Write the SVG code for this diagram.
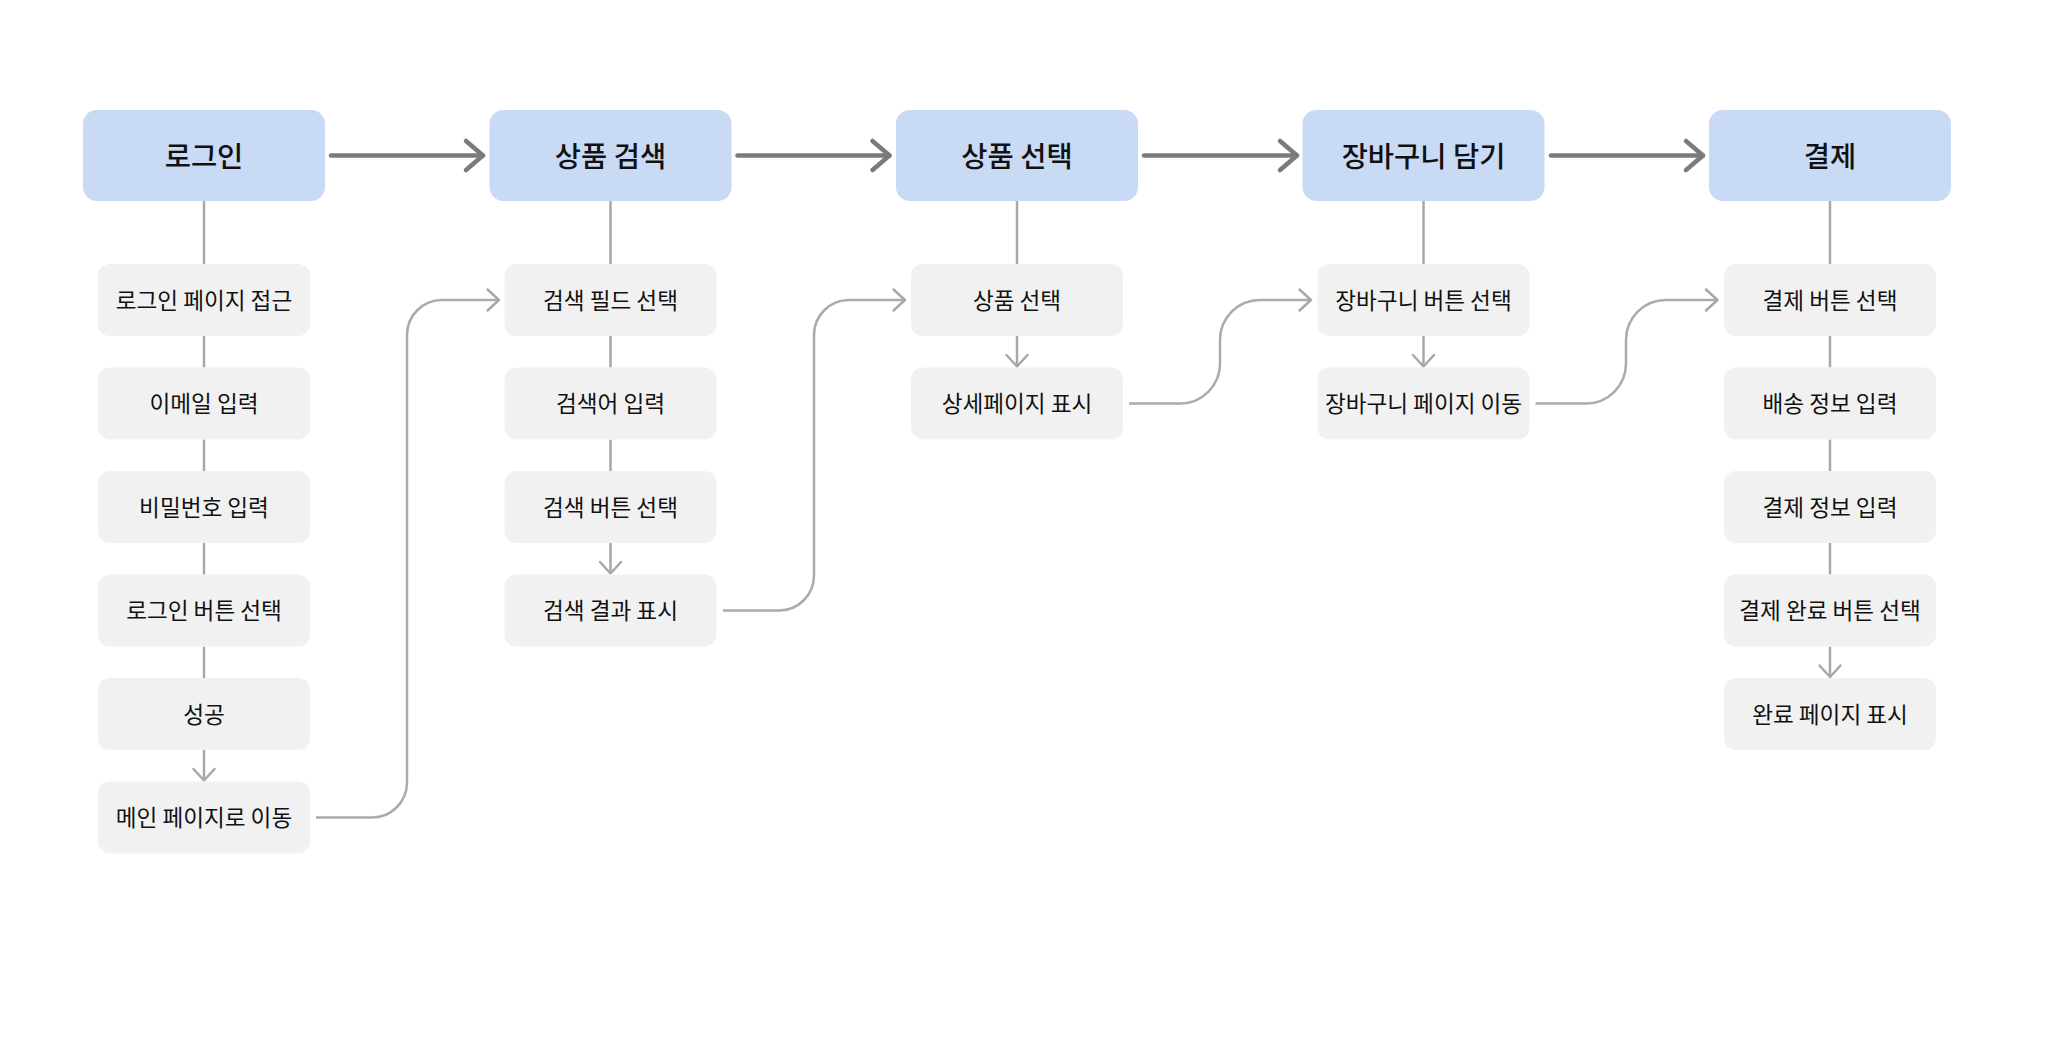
<svg xmlns="http://www.w3.org/2000/svg" width="2048" height="1042" viewBox="0 0 2048 1042">
<defs>
<style>
.hdr rect{fill:#C9DAF4;}
.sub rect{fill:#F1F1F1;}
text{font-family:"Noto Sans CJK KR","Noto Sans",sans-serif;fill:#111111;text-anchor:middle;dominant-baseline:central;}
.hdr text{font-size:28.5px;font-weight:500;}
.sub text{font-size:22.6px;}
.main{fill:none;stroke:#7B7B7B;stroke-width:4.5;stroke-linecap:round;}
.thin{fill:none;stroke:#A8A8A8;stroke-width:2.5;}
.curve{fill:none;stroke:#ABABAB;stroke-width:2.5;}
</style>
<marker id="big" markerUnits="userSpaceOnUse" markerWidth="24" markerHeight="36" viewBox="0 0 24 36" refX="20" refY="18" orient="auto" overflow="visible">
<path d="M3,3.5 L20,18 L3,32.5" fill="none" stroke="#7B7B7B" stroke-width="4.5" stroke-linecap="round" stroke-linejoin="round"/>
</marker>
<marker id="small" markerUnits="userSpaceOnUse" markerWidth="16" markerHeight="26" viewBox="0 0 16 26" refX="13" refY="13" orient="auto" overflow="visible">
<path d="M1.5,2.5 L13,13 L1.5,23.5" fill="none" stroke="#A8A8A8" stroke-width="2.5" stroke-linecap="round" stroke-linejoin="round"/>
</marker>
</defs>
<rect width="2048" height="1042" fill="#FFFFFF"/>

<g id="connectors">
<path class="main" d="M331,155.5 H483" marker-end="url(#big)"/>
<path class="main" d="M737.5,155.5 H889.5" marker-end="url(#big)"/>
<path class="main" d="M1144,155.5 H1297" marker-end="url(#big)"/>
<path class="main" d="M1551,155.5 H1703" marker-end="url(#big)"/>
<path class="thin" d="M204,201 V264"/>
<path class="thin" d="M204,336 V367.5"/>
<path class="thin" d="M204,439.5 V471"/>
<path class="thin" d="M204,543 V574.5"/>
<path class="thin" d="M204,646.5 V678"/>
<path class="thin" d="M204,750 V780.5" marker-end="url(#small)"/>
<path class="thin" d="M610.5,201 V264"/>
<path class="thin" d="M610.5,336 V367.5"/>
<path class="thin" d="M610.5,439.5 V471"/>
<path class="thin" d="M610.5,543 V573.5" marker-end="url(#small)"/>
<path class="thin" d="M1017,201 V264"/>
<path class="thin" d="M1017,336 V366.5" marker-end="url(#small)"/>
<path class="thin" d="M1423.5,201 V264"/>
<path class="thin" d="M1423.5,336 V366.5" marker-end="url(#small)"/>
<path class="thin" d="M1830,201 V264"/>
<path class="thin" d="M1830,336 V367.5"/>
<path class="thin" d="M1830,439.5 V471"/>
<path class="thin" d="M1830,543 V574.5"/>
<path class="thin" d="M1830,646.5 V677" marker-end="url(#small)"/>
<path class="curve" d="M316,817.5 H372 A35,35 0 0 0 407,782.5 V335 A35,35 0 0 1 442,300 H499" marker-end="url(#small)"/>
<path class="curve" d="M723,610.5 H779 A35,35 0 0 0 814,575.5 V335 A35,35 0 0 1 849,300 H905" marker-end="url(#small)"/>
<path class="curve" d="M1129,403.5 H1180 A40,40 0 0 0 1220,363.5 V340 A40,40 0 0 1 1260,300 H1311" marker-end="url(#small)"/>
<path class="curve" d="M1535.5,403.5 H1586 A40,40 0 0 0 1626,363.5 V340 A40,40 0 0 1 1666,300 H1717.5" marker-end="url(#small)"/>
</g>

<g id="h-login" class="hdr"><rect x="83" y="110" width="242" height="91" rx="14"/><text x="204" y="154">로그인</text></g>
<g id="h-search" class="hdr"><rect x="489.5" y="110" width="242" height="91" rx="14"/><text x="610.5" y="154">상품 검색</text></g>
<g id="h-select" class="hdr"><rect x="896" y="110" width="242" height="91" rx="14"/><text x="1017" y="154">상품 선택</text></g>
<g id="h-cart" class="hdr"><rect x="1302.5" y="110" width="242" height="91" rx="14"/><text x="1423.5" y="154">장바구니 담기</text></g>
<g id="h-pay" class="hdr"><rect x="1709" y="110" width="242" height="91" rx="14"/><text x="1830" y="154">결제</text></g>

<g id="s0-0" class="sub"><rect x="98" y="264" width="212" height="72" rx="12"/><text x="204" y="299">로그인 페이지 접근</text></g>
<g id="s0-1" class="sub"><rect x="98" y="367.5" width="212" height="72" rx="12"/><text x="204" y="402.5">이메일 입력</text></g>
<g id="s0-2" class="sub"><rect x="98" y="471" width="212" height="72" rx="12"/><text x="204" y="506">비밀번호 입력</text></g>
<g id="s0-3" class="sub"><rect x="98" y="574.5" width="212" height="72" rx="12"/><text x="204" y="609.5">로그인 버튼 선택</text></g>
<g id="s0-4" class="sub"><rect x="98" y="678" width="212" height="72" rx="12"/><text x="204" y="713">성공</text></g>
<g id="s0-5" class="sub"><rect x="98" y="781.5" width="212" height="72" rx="12"/><text x="204" y="816.5">메인 페이지로 이동</text></g>

<g id="s1-0" class="sub"><rect x="504.5" y="264" width="212" height="72" rx="12"/><text x="610.5" y="299">검색 필드 선택</text></g>
<g id="s1-1" class="sub"><rect x="504.5" y="367.5" width="212" height="72" rx="12"/><text x="610.5" y="402.5">검색어 입력</text></g>
<g id="s1-2" class="sub"><rect x="504.5" y="471" width="212" height="72" rx="12"/><text x="610.5" y="506">검색 버튼 선택</text></g>
<g id="s1-3" class="sub"><rect x="504.5" y="574.5" width="212" height="72" rx="12"/><text x="610.5" y="609.5">검색 결과 표시</text></g>

<g id="s2-0" class="sub"><rect x="911" y="264" width="212" height="72" rx="12"/><text x="1017" y="299">상품 선택</text></g>
<g id="s2-1" class="sub"><rect x="911" y="367.5" width="212" height="72" rx="12"/><text x="1017" y="402.5">상세페이지 표시</text></g>

<g id="s3-0" class="sub"><rect x="1317.5" y="264" width="212" height="72" rx="12"/><text x="1423.5" y="299">장바구니 버튼 선택</text></g>
<g id="s3-1" class="sub"><rect x="1317.5" y="367.5" width="212" height="72" rx="12"/><text x="1423.5" y="402.5">장바구니 페이지 이동</text></g>

<g id="s4-0" class="sub"><rect x="1724" y="264" width="212" height="72" rx="12"/><text x="1830" y="299">결제 버튼 선택</text></g>
<g id="s4-1" class="sub"><rect x="1724" y="367.5" width="212" height="72" rx="12"/><text x="1830" y="402.5">배송 정보 입력</text></g>
<g id="s4-2" class="sub"><rect x="1724" y="471" width="212" height="72" rx="12"/><text x="1830" y="506">결제 정보 입력</text></g>
<g id="s4-3" class="sub"><rect x="1724" y="574.5" width="212" height="72" rx="12"/><text x="1830" y="609.5">결제 완료 버튼 선택</text></g>
<g id="s4-4" class="sub"><rect x="1724" y="678" width="212" height="72" rx="12"/><text x="1830" y="713">완료 페이지 표시</text></g>
</svg>
